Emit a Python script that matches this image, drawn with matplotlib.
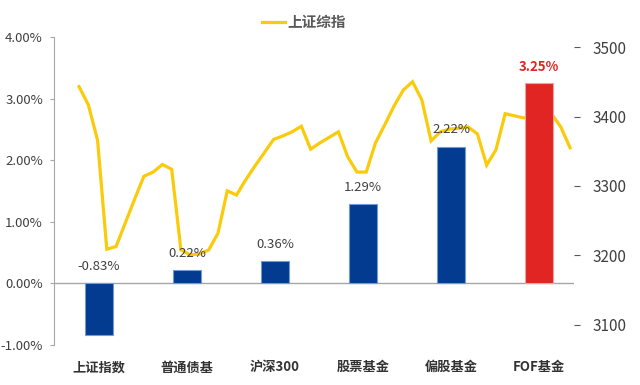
import matplotlib.pyplot as plt
import numpy as np

plt.rcParams['font.family'] = ['Noto Sans CJK SC', 'DejaVu Sans']

# Data
categories = ['上证指数', '普通债基', '沪深300', '股票基金', '偏股基金', 'FOF基金']
returns = [-0.83, 0.22, 0.36, 1.29, 2.22, 3.25]
bar_colors = ['#023B8F', '#023B8F', '#023B8F', '#023B8F', '#023B8F', '#E02522']
edge_colors = ['#6F9BD8', '#6F9BD8', '#6F9BD8', '#6F9BD8', '#6F9BD8', '#F2A0A0']

index_values = [3443, 3417, 3366, 3209, 3213, 3247, 3281, 3314, 3320, 3331,
                3324, 3208, 3201, 3202, 3208, 3232, 3293, 3287, 3309, 3329,
                3348, 3367, 3372, 3378, 3386, 3353, 3362, 3370, 3378, 3342,
                3320, 3320, 3362, 3388, 3415, 3438, 3450, 3424, 3365, 3378,
                3382, 3383, 3385, 3375, 3330, 3352, 3404, 3401, 3398, 3400,
                3403, 3404, 3385, 3355]

fig = plt.figure(figsize=(6.4, 3.85), dpi=100)
pos = [0.0844, 0.1039, 0.8125, 0.8]

# bars on left axis
ax = fig.add_axes(pos)
x = np.arange(len(categories))
ax.bar(x, returns, width=0.31, color=bar_colors, edgecolor=edge_colors,
       linewidth=0.8, zorder=2)
ax.axhline(0, color='#A6A6A6', linewidth=1, zorder=1)
ax.set_xlim(-0.511, 5.398)
ax.set_ylim(-1, 4)
ax.set_yticks([-1, 0, 1, 2, 3, 4])
ax.set_yticklabels([f'{v:.2f}%' for v in [-1, 0, 1, 2, 3, 4]])
ax.set_xticks(x)
ax.set_xticklabels(categories, fontweight='bold', fontsize=9.5, color='#333333')
ax.tick_params(axis='x', length=0, pad=11)
ax.tick_params(axis='y', length=3, pad=5, labelsize=9.5, labelcolor='#404040',
               color='#A6A6A6')
for s in ['top', 'right', 'bottom']:
    ax.spines[s].set_visible(False)
ax.spines['left'].set_color('#A6A6A6')

for i, v in enumerate(returns):
    if i == len(returns) - 1:
        ax.annotate(f'{v:.2f}%', (i, max(v, 0)), xytext=(0, 12),
                    textcoords='offset points', ha='center', va='center',
                    fontsize=9.5, color='#E02522', fontweight='bold', zorder=5)
    else:
        ax.annotate(f'{v:.2f}%', (i, max(v, 0)), xytext=(0, 12),
                    textcoords='offset points', ha='center', va='center',
                    fontsize=9.5, color='#404040', zorder=5)

# index line on its own axes, right scale
ax2 = fig.add_axes(pos, frameon=False)
ax2.plot(np.arange(len(index_values)), index_values, color='#FACB0A',
         linewidth=2.3, solid_joinstyle='miter', label='上证综指')
ax2.set_xlim(-2.699, 53.43)
ax2.set_ylim(3071.2, 3514.4)
ax2.set_xticks([])
ax2.yaxis.tick_right()
ax2.set_yticks([3100, 3200, 3300, 3400, 3500])
ax2.tick_params(axis='y', length=4, pad=9, labelsize=11, labelcolor='#404040',
                color='#595959')
ax2.spines['right'].set_visible(True)
ax2.spines['right'].set_color('#595959')
ax2.spines['right'].set_bounds(3100, 3500)
ax2.patch.set_visible(False)
ax.set_zorder(2)
ax.patch.set_visible(False)
ax2.set_zorder(1)

leg = fig.legend(loc='center', bbox_to_anchor=(0.475, 0.943), frameon=False,
                 handlelength=1.6, handletextpad=0.2,
                 prop={'weight': 'bold', 'size': 10.5})
for t in leg.get_texts():
    t.set_color('#595959')

fig.savefig('out.png', dpi=100)
